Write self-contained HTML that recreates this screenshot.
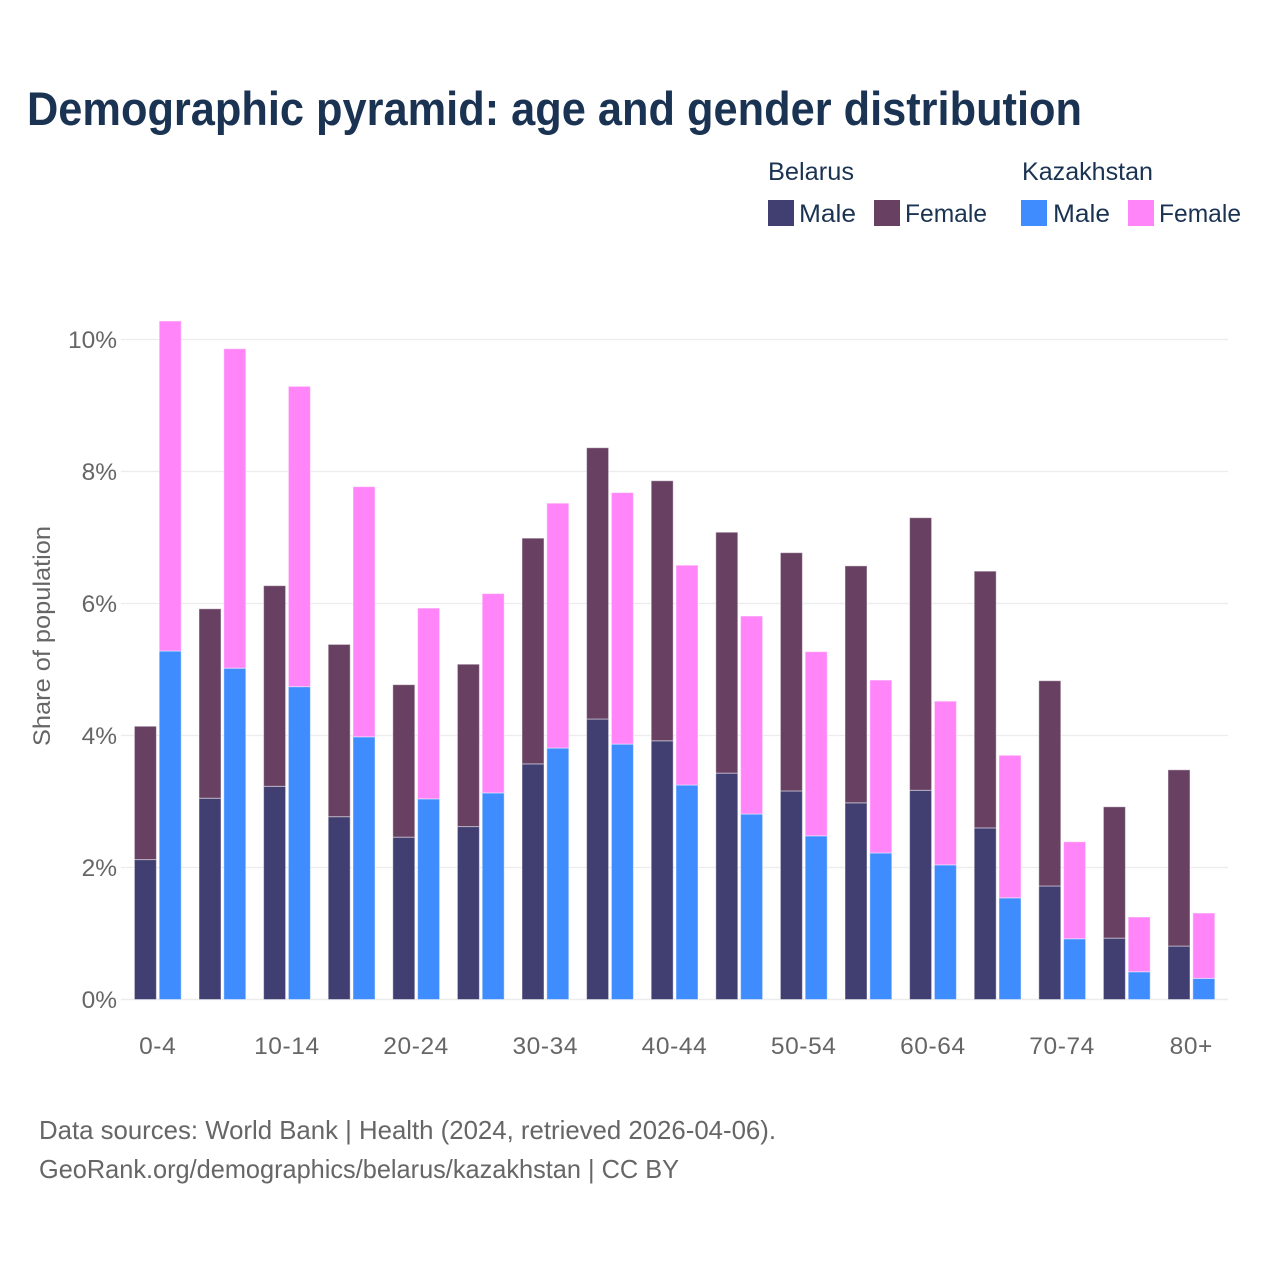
<!DOCTYPE html>
<html lang="en">
<head>
<meta charset="utf-8">
<title>Demographic pyramid</title>
<style>
html,body{margin:0;padding:0;background:#fff;}
svg{display:block;font-family:"Liberation Sans",sans-serif;}
</style>
</head>
<body>
<svg id="chart" width="1280" height="1280" viewBox="0 0 1280 1280" xmlns="http://www.w3.org/2000/svg">
  <rect width="1280" height="1280" fill="#ffffff"/>
  <text x="27" y="125" font-size="47" font-weight="bold" fill="#1a3352" textLength="1055" lengthAdjust="spacingAndGlyphs">Demographic pyramid: age and gender distribution</text>

  <g font-size="25" fill="#1a3352">
    <text x="768" y="180" textLength="86" lengthAdjust="spacingAndGlyphs">Belarus</text>
    <text x="1022" y="180" textLength="131" lengthAdjust="spacingAndGlyphs">Kazakhstan</text>
    <rect x="768" y="200" width="26" height="26" fill="#413f72"/>
    <text x="799" y="222" textLength="57" lengthAdjust="spacingAndGlyphs">Male</text>
    <rect x="874" y="200" width="26" height="26" fill="#684162"/>
    <text x="905" y="222" textLength="82" lengthAdjust="spacingAndGlyphs">Female</text>
    <rect x="1021" y="200" width="26" height="26" fill="#3f8cff"/>
    <text x="1053" y="222" textLength="57" lengthAdjust="spacingAndGlyphs">Male</text>
    <rect x="1128" y="200" width="26" height="26" fill="#ff85f8"/>
    <text x="1159" y="222" textLength="82" lengthAdjust="spacingAndGlyphs">Female</text>
  </g>

  <g id="grid"></g>
  <g id="bars"></g>
  <g id="yticks"></g>
  <g id="xticks"></g>

  <text transform="translate(50,746) rotate(-90)" font-size="24" fill="#666666" textLength="220" lengthAdjust="spacingAndGlyphs">Share of population</text>

  <text x="39" y="1139" font-size="26" fill="#666666" textLength="737" lengthAdjust="spacingAndGlyphs">Data sources: World Bank | Health (2024, retrieved 2026-04-06).</text>
  <text x="39" y="1178" font-size="26" fill="#666666" textLength="640" lengthAdjust="spacingAndGlyphs">GeoRank.org/demographics/belarus/kazakhstan | CC BY</text>
</svg>
<script>
const categories = ["0-4","5-9","10-14","15-19","20-24","25-29","30-34","35-39","40-44","45-49","50-54","55-59","60-64","65-69","70-74","75-79","80+"];
const belarusMale = [2.12,3.05,3.23,2.77,2.46,2.62,3.57,4.25,3.92,3.43,3.16,2.98,3.17,2.60,1.72,0.93,0.81];
const belarusFemale = [2.02,2.87,3.04,2.61,2.31,2.46,3.42,4.11,3.94,3.65,3.61,3.59,4.13,3.89,3.11,1.99,2.67];
const kazakhstanMale = [5.28,5.02,4.74,3.98,3.04,3.13,3.81,3.87,3.25,2.81,2.48,2.22,2.04,1.54,0.92,0.42,0.32];
const kazakhstanFemale = [5.00,4.84,4.55,3.79,2.89,3.02,3.71,3.81,3.33,3.00,2.79,2.62,2.48,2.16,1.47,0.83,0.99];
const yTickValues = [0,2,4,6,8,10];

const NS = "http://www.w3.org/2000/svg";
const yScale = function (v) { return 999.5 - v * 66; };
const bandStep = 64.6;
const bandScale = function (i) { return 157.7 + i * bandStep; };
const barWidth = 22;

function make(tag, attrs, parent) {
  const el = document.createElementNS(NS, tag);
  for (const k in attrs) el.setAttribute(k, attrs[k]);
  parent.appendChild(el);
  return el;
}

const grid = document.getElementById("grid");
const yticks = document.getElementById("yticks");
yTickValues.forEach(function (v) {
  const line = make("line", {x1: 121, x2: 1228, y1: yScale(v), y2: yScale(v), stroke: "#ececec", "stroke-width": v === 0 ? 1.6 : 1.3}, grid);
  
  
  const label = make("text", {x: 117, y: yScale(v) + 8.5, "text-anchor": "end", "font-size": 24.5, fill: "#666666"}, yticks);
  label.textContent = v + "%";
  
  
});

const bars = document.getElementById("bars");
function drawBar(x, base, value, fill, strokeColor) {
  const top = yScale(base + value);
  const bottom = yScale(base);
  const r = make("rect", {x: x, y: top, width: barWidth, height: bottom - top, fill: fill, stroke: strokeColor, "stroke-width": 1}, bars);
  return r;
}
categories.forEach(function (c, i) {
  const center = bandScale(i);
  const xB = center - 23.3;
  const xK = center + 1.5;
  const bm = drawBar(xB, 0, belarusMale[i], "#413f72", "rgba(255,255,255,.45)");
  
  
  const bf = drawBar(xB, belarusMale[i], belarusFemale[i], "#684162", "rgba(255,255,255,.45)");
  
  
  const km = drawBar(xK, 0, kazakhstanMale[i], "#3f8cff", "rgba(255,255,255,.45)");
  
  
  const kf = drawBar(xK, kazakhstanMale[i], kazakhstanFemale[i], "#ff85f8", "rgba(255,255,255,.45)");
  
  
});

const xticks = document.getElementById("xticks");
categories.forEach(function (c, i) {
  if (i % 2 !== 0) return;
  const t = make("text", {x: bandScale(i), y: 1054, "text-anchor": "middle", "font-size": 24.5, fill: "#666666", "letter-spacing": 0.6}, xticks);
  t.textContent = c;
  
  
});
</script>
</body>
</html>
